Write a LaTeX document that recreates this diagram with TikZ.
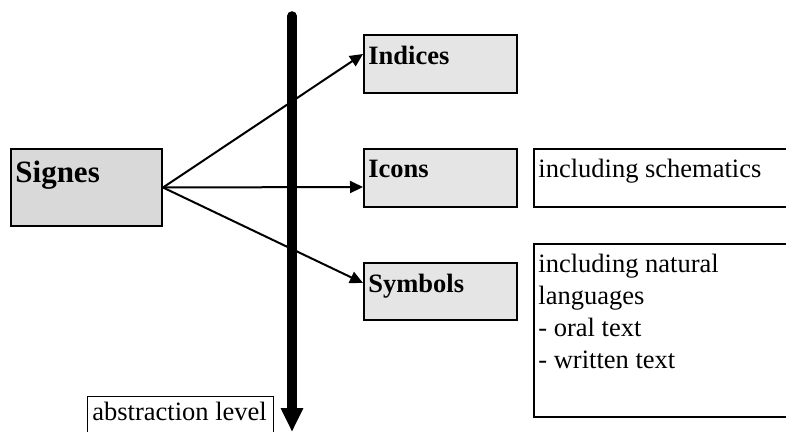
\documentclass[tikz,border=0pt]{standalone}
\usepackage{fontspec}
\setmainfont{Liberation Serif}
\usetikzlibrary{arrows.meta,positioning,calc}

\tikzset{
	box/.style={rectangle, draw, line width=1pt, anchor=north west, inner sep=0pt},
	kind/.style={box, fill=gray!20, minimum width=76.5pt, minimum height=29pt},
	head/.style={anchor=north west, inner xsep=2.5pt, inner ysep=6pt, font=\fontsize{13.25}{15}\selectfont\bfseries},
	note/.style={anchor=north west, inner xsep=2.5pt, inner ysep=5.5pt, align=left, font=\fontsize{13.25}{16}\selectfont},
	link/.style={line width=1pt, -{Triangle[length=6.5pt,width=6pt]}},
	axis/.style={line width=4.75pt, line cap=round, -{Triangle[length=12pt,width=10.5pt]}}
}

\begin{document}
\begin{tikzpicture}[x=0.5pt,y=-0.5pt]
		\clip (0,0) rectangle (786,432);
		% the sign and its three kinds
		\node[box, fill=gray!30, minimum width=75.5pt, minimum height=38.5pt, label={[head, inner ysep=6.5pt, font=\fontsize{15.5}{18}\selectfont\bfseries]north west:Signes}] (signes) at (10,148) {};
		\node[kind, label={[head]north west:Indices}] (ind) at (363,34) {};
		\node[kind, label={[head]north west:Icons}] (ico) at (363,148) {};
		\node[kind, minimum height=28.5pt, label={[head]north west:Symbols}] (sym) at (363,262) {};
		% notes on the right
		\node[box, minimum width=150pt, minimum height=29pt, label={[note]north west:including schematics}] (schem) at (533,148) {};
		\node[box, minimum width=150pt, minimum height=86.5pt, label={[note]north west:including natural\\languages\\- oral text\\- written text}] (natlang) at (533,243) {};
		\node[box, line width=0.5pt, minimum width=93pt, minimum height=30pt, label={[note, inner ysep=3pt]north west:abstraction level}] (abstr) at (87,396) {};
		% abstraction axis
		\coordinate (atop) at (292,16);
		\coordinate (abot) at (292,432);
		\draw[axis] (atop) -- (abot);
		% links
		\draw[link] (signes.east) -- ([yshift=5pt]ind.west);
		\draw[link] (signes.east) -- ([yshift=-4.5pt]ico.west);
		\draw[link] (signes.east) -- ([yshift=4.25pt]sym.west);
\end{tikzpicture}
\end{document}
